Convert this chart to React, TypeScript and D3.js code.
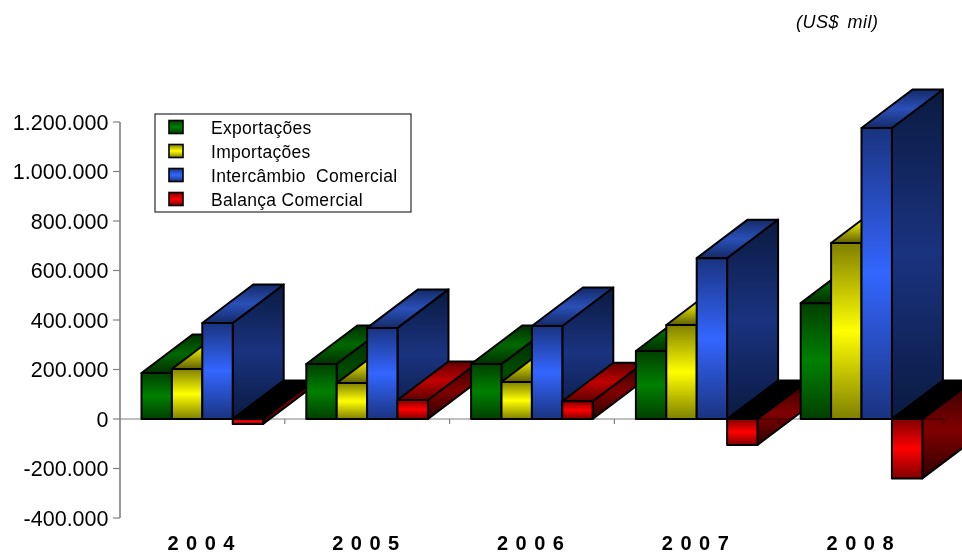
import React from "react";
import * as d3 from "d3";

const years = ["2004", "2005", "2006", "2007", "2008"];
const seriesNames = ["Exportações", "Importações", "Intercâmbio  Comercial", "Balança Comercial"];
const exportacoes = [186000, 222000, 222000, 275000, 468000];
const importacoes = [202000, 145000, 150000, 380000, 711000];
const intercambio = [388000, 368000, 376000, 650000, 1176000];
const balanca = [-20000, 77000, 72000, -105000, -240000];
const allSeries = [exportacoes, importacoes, intercambio, balanca];
const yTicks = [-400000, -200000, 0, 200000, 400000, 600000, 800000, 1000000, 1200000];

const frontColors = [["#004000", "#008000"], ["#808000", "#ffff00"], ["#1a3380", "#3366ff"], ["#800000", "#ff0000"]];
const sideColors = [["#002000", "#004d00"], ["#404000", "#808000"], ["#0a1a40", "#1a3380"], ["#300000", "#800000"]];
const topColors = [["#003000", "#006800"], ["#606000", "#e0e000"], ["#142a68", "#2a50b8"], ["#600000", "#c00000"]];

const W = 962, H = 553;
const y = d3.scaleLinear().domain([-400000, 1200000]).range([518, 122]);
const x = d3.scaleBand<string>().domain(years).range([120, 944]);
const groupInset = 21.5;
const barW = 30.4;
const depthX = 51, depthY = -38.5;
const fmt = (v: number) => d3.format(",")(v).replace(/,/g, ".").replace("\u2212", "-");

function Grad({ id, c }: { id: string; c: string[] }) {
  return (
    <linearGradient id={id} x1="0" y1="0" x2="0" y2="1">
      <stop offset="0" stopColor={c[0]} />
      <stop offset="0.5" stopColor={c[1]} />
      <stop offset="1" stopColor={c[0]} />
    </linearGradient>
  );
}

const poly = (pts: number[][]) => pts.map((p) => p.join(",")).join(" ");

export default function App() {
  const zero = y(0);
  return (
    <svg width={W} height={H} style={{ position: "fixed", left: 0, top: 0, display: "block", background: "#fff" }}
      fontFamily="'Liberation Sans', Arial, sans-serif">
      <defs>
        {frontColors.map((c, i) => <Grad key={i} id={`f${i}`} c={c} />)}
        {sideColors.map((c, i) => <Grad key={i} id={`s${i}`} c={c} />)}
        {topColors.map((c, i) => <Grad key={i} id={`t${i}`} c={c} />)}
      </defs>

      <text x={796} y={28} fontSize={18} fontStyle="italic" letterSpacing={0.5} wordSpacing={3} fill="#000">(US$ mil)</text>

      {years.map((yr, g) => (
        <g key={yr}>
          {allSeries.map((vals, s) => {
            const v = vals[g];
            const x0 = (x(yr) as number) + groupInset + s * barW;
            const x1 = x0 + barW;
            const yv = y(v);
            const top = Math.min(yv, zero);
            const bot = Math.max(yv, zero);
            const common = { stroke: "#000", strokeWidth: 2, strokeLinejoin: "round" as const };
            return (
              <g key={s}>
                <polygon {...common} fill={`url(#s${s})`} points={poly([[x1, top], [x1 + depthX, top + depthY], [x1 + depthX, bot + depthY], [x1, bot]])} />
                <polygon {...common} fill={v < 0 ? "#000" : `url(#t${s})`} points={poly([[x0, top], [x0 + depthX, top + depthY], [x1 + depthX, top + depthY], [x1, top]])} />
                <rect {...common} x={x0} y={top} width={barW} height={bot - top} fill={`url(#f${s})`} />
              </g>
            );
          })}
        </g>
      ))}

      <g stroke="#808080" strokeWidth={1.2} style={{ mixBlendMode: "multiply" }}>
        <line x1={120} x2={944} y1={zero} y2={zero} />
        {x.domain().map((yr) => {
          const tx = (x(yr) as number) + x.bandwidth();
          return <line key={yr} x1={tx} x2={tx} y1={zero} y2={zero + 5} />;
        })}
      </g>
      <g stroke="#808080" strokeWidth={1.6}>
        <line x1={120} x2={120} y1={y(1200000)} y2={y(-400000)} />
        {yTicks.map((t) => <line key={t} x1={113} x2={120} y1={y(t)} y2={y(t)} strokeWidth={1.2} />)}
      </g>
      {yTicks.map((t) => (
        <text key={t} x={108.5} y={y(t) + 7.5} textAnchor="end" fontSize={21.5} fill="#000">{fmt(t)}</text>
      ))}
      {years.map((yr) => (
        <text key={yr} x={(x(yr) as number) + x.bandwidth() / 2 - 35} y={549.5} fontSize={20} fontWeight="bold"
          letterSpacing={7.5} fill="#000">{yr}</text>
      ))}

      <rect x={155} y={114} width={256} height={98} fill="#fff" stroke="#000" strokeWidth={1} />
      {seriesNames.map((n, i) => (
        <g key={n}>
          <rect x={169} y={120.5 + i * 24} width={14} height={13} fill={`url(#f${i})`} stroke="#000" strokeWidth={1.6} />
          <text x={211} y={133.5 + i * 24} fontSize={17.5} letterSpacing={0.3} fill="#000" style={{ whiteSpace: "pre" }}>{n}</text>
        </g>
      ))}
    </svg>
  );
}
